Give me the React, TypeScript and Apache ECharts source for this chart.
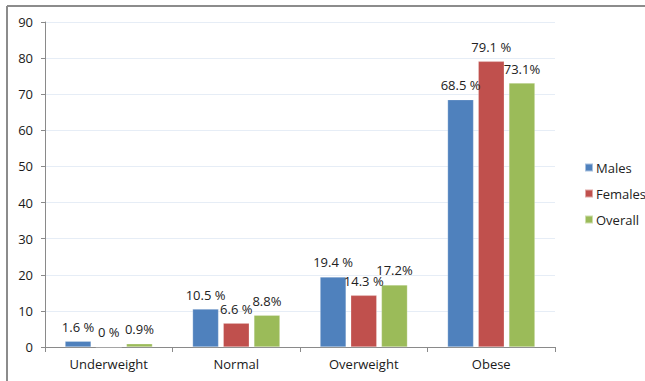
import React, { useEffect, useRef } from "react";
import * as echarts from "echarts";

const categories = ["Underweight", "Normal", "Overweight", "Obese"];
const seriesNames = ["Males", "Females", "Overall"];
const males = [1.6, 10.5, 19.4, 68.5];
const females = [0, 6.6, 14.3, 79.1];
const overall = [0.9, 8.8, 17.2, 73.1];
const malesLabels = ["1.6 %", "10.5 %", "19.4 %", "68.5 %"];
const femalesLabels = ["0 %", "6.6 %", "14.3 %", "79.1 %"];
const overallLabels = ["0.9%", "8.8%", "17.2%", "73.1%"];
const yTicks = [0, 10, 20, 30, 40, 50, 60, 70, 80, 90];

const colors = ["#4F81BD", "#C0504D", "#9BBB59"];
const FONT = "'Open Sans', 'Noto Sans', sans-serif";

export default function App() {
  const ref = useRef<HTMLDivElement>(null);
  useEffect(() => {
    if (!ref.current) return;
    const chart = echarts.init(ref.current, null, { renderer: "svg" });
    const values = [males, females, overall];
    const labels = [malesLabels, femalesLabels, overallLabels];
    chart.setOption({
      animation: false,
      backgroundColor: "#ffffff",
      textStyle: { fontFamily: FONT },
      grid: { left: 45, right: 90, top: 22, bottom: 34, containLabel: false },
      legend: {
        orient: "vertical",
        left: 579,
        top: 156,
        itemWidth: 8,
        itemHeight: 8,
        itemGap: 13,
        icon: "rect",
        data: seriesNames,
        textStyle: { fontFamily: FONT, fontSize: 13, color: "#222", padding: [0, 0, 0, -2] },
      },
      xAxis: {
        type: "category",
        data: categories,
        axisLine: { show: true, lineStyle: { color: "#8a8a8a", width: 1 } },
        axisTick: { show: true, length: 5, lineStyle: { color: "#8a8a8a" } },
        axisLabel: { fontFamily: FONT, fontSize: 13, color: "#1a1a1a", margin: 10 },
      },
      yAxis: {
        type: "value",
        min: yTicks[0],
        max: yTicks[yTicks.length - 1],
        interval: 10,
        axisLine: { show: true, lineStyle: { color: "#8a8a8a", width: 1 } },
        axisTick: { show: true, length: 4, lineStyle: { color: "#8a8a8a" } },
        axisLabel: { fontFamily: FONT, fontSize: 13, color: "#1a1a1a", margin: 12 },
        splitLine: { show: true, lineStyle: { color: "#e6edf6", width: 1 } },
      },
      series: seriesNames.map((name, i) => ({
        name,
        type: "bar",
        data: values[i],
        barWidth: 26,
        barGap: "18%",
        itemStyle: { color: colors[i], borderColor: "rgba(255,255,255,0.5)", borderWidth: 0.5 },
        label: {
          show: true,
          position: "top",
          distance: 8,
          fontFamily: FONT,
          fontSize: 13,
          color: "#222",
          formatter: (p: any) => labels[i][p.dataIndex],
        },
      })),
      graphic: [
        { type: "line", shape: { x1: 7, y1: 6, x2: 645, y2: 6 }, style: { stroke: "#8c8c8c", lineWidth: 2 } },
        { type: "line", shape: { x1: 7, y1: 6, x2: 7, y2: 381 }, style: { stroke: "#8c8c8c", lineWidth: 2 } },
      ],
    });
    return () => chart.dispose();
  }, []);
  return (
    <div
      ref={ref}
      style={{ position: "fixed", left: 0, top: 0, width: 645, height: 381 }}
    />
  );
}
